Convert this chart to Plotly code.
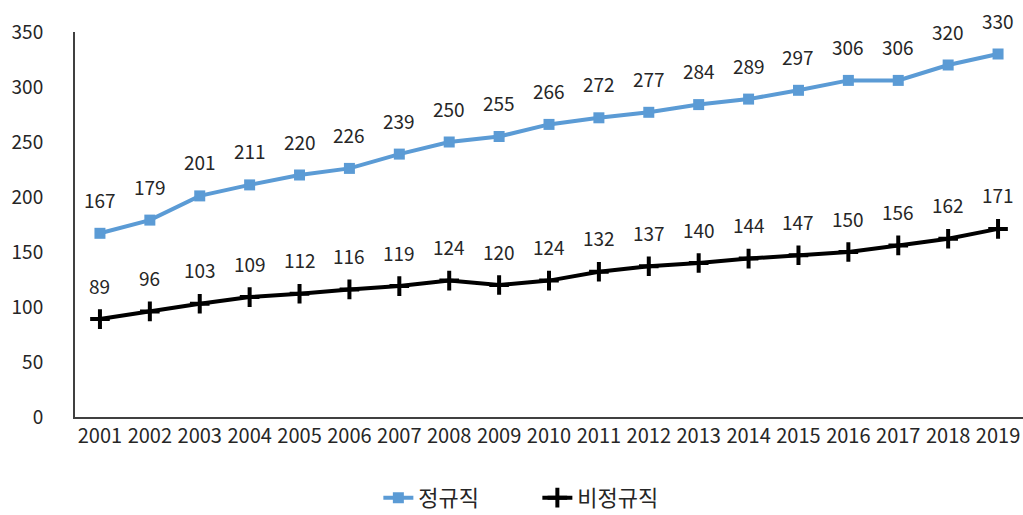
import plotly.graph_objects as go

years = [str(y) for y in range(2001, 2020)]
regular = [167, 179, 201, 211, 220, 226, 239, 250, 255, 266, 272, 277, 284, 289, 297, 306, 306, 320, 330]
nonregular = [89, 96, 103, 109, 112, 116, 119, 124, 120, 124, 132, 137, 140, 144, 147, 150, 156, 162, 171]
y_ticks = [0, 50, 100, 150, 200, 250, 300, 350]

FONT = "Noto Sans CJK KR, Noto Sans, sans-serif"
BLUE = "#5B9BD5"
BLACK = "#000000"
TEXT = "#262626"

fig = go.Figure()
fig.add_trace(go.Scatter(
    x=years, y=regular, name="정규직", mode="lines+markers",
    line=dict(color=BLUE, width=4),
    marker=dict(symbol="square", size=11, color=BLUE),
))
fig.add_trace(go.Scatter(
    x=years, y=nonregular, name="비정규직", mode="lines+markers",
    line=dict(color=BLACK, width=4),
    marker=dict(symbol="cross-thin", size=14, line=dict(color=BLACK, width=4)),
))

# value labels above each point (category index used for x position)
annotations = []
for series in (regular, nonregular):
    for i, v in enumerate(series):
        annotations.append(dict(
            x=i, y=v, xref="x", yref="y", text=str(v), showarrow=False,
            yshift=34, font=dict(family=FONT, size=19, color=TEXT),
        ))

fig.update_layout(
    width=1023, height=515,
    margin=dict(l=75, r=0, t=32, b=98, autoexpand=False),
    paper_bgcolor="white", plot_bgcolor="white",
    font=dict(family=FONT, size=19, color=TEXT),
    annotations=annotations,
    showlegend=True,
    legend=dict(
        orientation="h", x=0.32, xanchor="left", y=-0.21, yanchor="middle",
        font=dict(family=FONT, size=22, color=TEXT),
        itemwidth=30, entrywidth=114, entrywidthmode="pixels",
    ),
    xaxis=dict(
        type="category", showgrid=False, showline=True, linecolor="#404040",
        linewidth=2, ticks="", tickfont=dict(family=FONT, size=20),
        range=[-0.5, 18.5],
    ),
    yaxis=dict(
        range=[0, 350], tickvals=y_ticks, showgrid=False, showline=True,
        linecolor="#404040", linewidth=2, ticks="", ticklabelstandoff=26,
        zeroline=False, tickfont=dict(family=FONT, size=19),
    ),
)

fig.write_html("out.html")
